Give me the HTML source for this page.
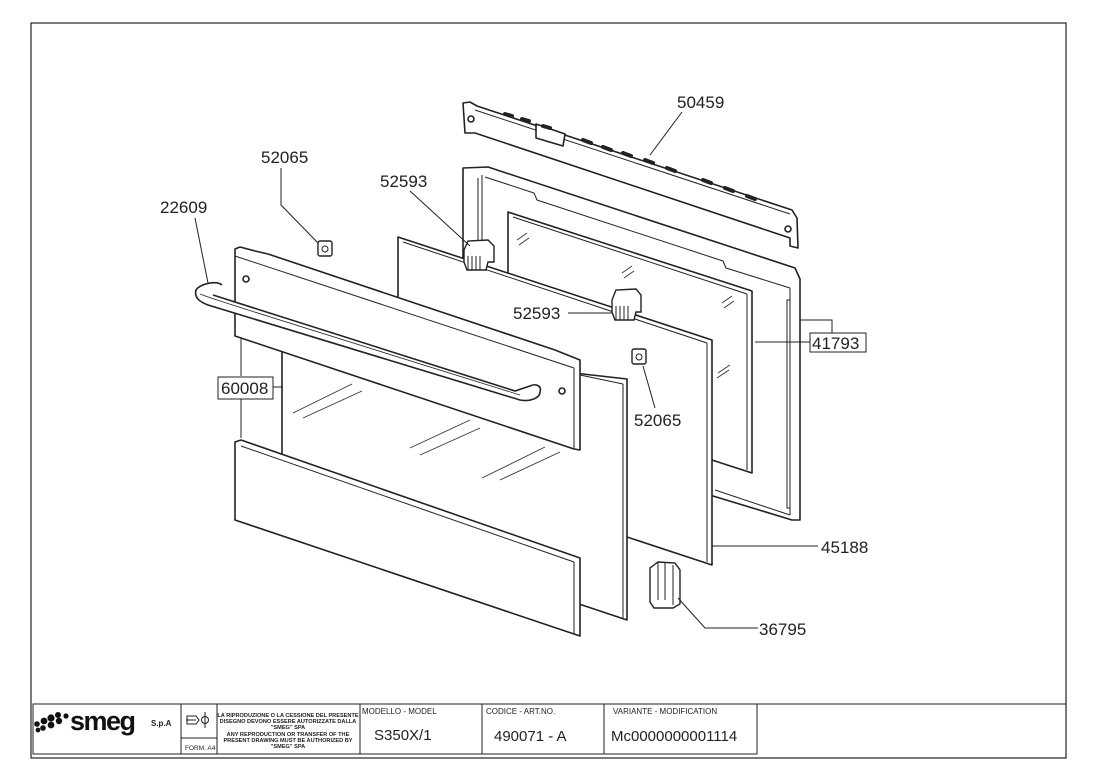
<!DOCTYPE html>
<html><head><meta charset="utf-8"><style>
html,body{margin:0;padding:0;background:#fff}
svg{display:block}
text{font-family:"Liberation Sans",sans-serif;fill:#222}
</style></head><body>
<svg width="1096" height="775" viewBox="0 0 1096 775" xmlns="http://www.w3.org/2000/svg">
<rect x="31" y="23" width="1035" height="735" fill="none" stroke="#222" stroke-width="1.2"/>
<g fill="#fff" stroke="#222" stroke-width="1.6" stroke-linejoin="round">
<!-- top rail 50459 -->
<polygon points="463,103 470,102 477,106 792,210 797,218 798,248 790,246 790,238 475,133 465,133"/>
<line x1="475" y1="110" x2="790" y2="214" stroke-width="1"/>
<polygon points="536,124 565,134 563,146 536,138" />
<g stroke-width="4" stroke-linecap="round">
<line x1="505" y1="114" x2="512" y2="116"/><line x1="522" y1="119" x2="529" y2="121"/><line x1="543" y1="126" x2="550" y2="128"/>
<line x1="583" y1="140" x2="591" y2="143"/><line x1="603" y1="147" x2="611" y2="150"/><line x1="623" y1="153" x2="631" y2="156"/><line x1="645" y1="160" x2="653" y2="163"/><line x1="667" y1="168" x2="675" y2="171"/>
<line x1="703" y1="180" x2="711" y2="183"/><line x1="725" y1="188" x2="733" y2="191"/><line x1="747" y1="196" x2="755" y2="199"/>
</g>
<circle cx="471" cy="119" r="3"/><circle cx="788" cy="229" r="3"/>
<!-- frame 41793 -->
<polygon points="463,168 488,167 795,268 800,279 800,520 792,520 463,420"/>
<line x1="478" y1="178" x2="478" y2="250" stroke-width="1"/>
<line x1="482" y1="175" x2="482" y2="250" stroke-width="1"/>
<polyline points="485,177 534,193 537,200 723,261 726,268 790,288" fill="none" stroke-width="1"/>
<line x1="790" y1="288" x2="790" y2="515" stroke-width="1"/>
<rect x="787" y="300" width="3" height="208" stroke-width="1"/>
<polyline points="715,490 790,515" fill="none" stroke-width="1"/>
<!-- inner glass -->
<polygon points="508,212 752,291 752,473 715,461 508,392"/>
<line x1="513" y1="217" x2="747" y2="294" stroke-width="1"/>
<line x1="747" y1="294" x2="747" y2="470" stroke-width="1"/>
<!-- glass 45188 -->
<polygon points="398,237 712,340 712,565 627,537 398,461"/>
<line x1="403" y1="242" x2="707" y2="343" stroke-width="1"/>
<line x1="707" y1="343" x2="707" y2="562" stroke-width="1"/>
<!-- middle glass -->
<polygon points="282,340 627,379 627,620 282,505"/>
<line x1="580" y1="375" x2="623" y2="384" stroke-width="1"/>
<line x1="623" y1="384" x2="623" y2="618" stroke-width="1"/>
<!-- front top panel -->
<polygon points="235,249 240,247 255,251 268,254 555,350 580,360 580,450 574,449 235,336"/>
<line x1="235" y1="256" x2="574" y2="368" stroke-width="1"/>
<line x1="574" y1="368" x2="574" y2="449" stroke-width="1"/>
<circle cx="246" cy="279" r="3"/><circle cx="562" cy="391" r="3"/>
<!-- front lower panel -->
<polygon points="235,442 241,440 580,558 580,636 574,634 235,520"/>
<line x1="241" y1="446" x2="574" y2="562" stroke-width="1"/>
<line x1="574" y1="562" x2="574" y2="634" stroke-width="1"/>
</g>
<!-- glass hatches -->
<g stroke="#333" stroke-width="0.9">
<line x1="293" y1="413" x2="352" y2="384"/><line x1="303" y1="418" x2="362" y2="391"/>
<line x1="410" y1="448" x2="470" y2="420"/><line x1="420" y1="455" x2="480" y2="428"/>
<line x1="482" y1="478" x2="545" y2="447"/><line x1="500" y1="480" x2="560" y2="452"/>
<line x1="517" y1="240" x2="527" y2="233"/><line x1="519" y1="245" x2="529" y2="238"/>
<line x1="622" y1="273" x2="632" y2="266"/><line x1="624" y1="278" x2="634" y2="271"/>
<line x1="722" y1="303" x2="732" y2="296"/><line x1="724" y1="308" x2="734" y2="301"/>
<line x1="718" y1="373" x2="730" y2="365"/><line x1="717" y1="378" x2="729" y2="370"/>
</g>
<!-- handle -->
<path d="M222,285 C216,280 200,284 196,290 C194,298 200,302 208,305 L520,400 C530,402 540,398 540,392 C542,386 536,383 530,386 L515,391 L213,295" fill="#fff" stroke="#222" stroke-width="1.6"/>
<path d="M200,294 C210,298 215,300 520,395" fill="none" stroke="#222" stroke-width="0.8"/>
<!-- clips 52065 -->
<rect x="318" y="241" width="14" height="15" rx="2" fill="#fff" stroke="#222" stroke-width="1.4"/><circle cx="325" cy="249" r="3" fill="none" stroke="#222"/>
<rect x="632" y="349" width="14" height="15" rx="2" fill="#fff" stroke="#222" stroke-width="1.4"/><circle cx="639" cy="357" r="3" fill="none" stroke="#222"/>
<!-- 52593 blocks -->
<g fill="#fff" stroke="#222" stroke-width="1.4">
<path d="M464,250 L468,241 L488,240 L494,246 L494,262 L488,262 L486,270 L467,270 L464,262 Z"/>
<path d="M468,256 L468,270 M472,256 L472,270 M476,256 L476,270 M480,256 L480,270" stroke-width="1"/>
<path d="M612,300 L616,290 L636,289 L641,295 L641,312 L636,312 L634,320 L615,320 L612,312 Z"/>
<path d="M616,306 L616,320 M620,306 L620,320 M624,306 L624,320 M628,306 L628,320" stroke-width="1"/>
<!-- 36795 -->
<path d="M650,568 L658,562 L675,563 L680,570 L680,604 L673,608 L654,608 L650,602 Z"/>
<path d="M658,563 L658,600 M665,563 L665,600 M673,565 L673,605" stroke-width="1"/>
</g>
<!-- leaders -->
<g stroke="#222" stroke-width="1" fill="none">
<line x1="682" y1="112" x2="650" y2="155"/>
<polyline points="281,168 281,205 318,243"/>
<line x1="410" y1="191" x2="470" y2="246"/>
<line x1="195" y1="218" x2="208" y2="283"/>
<line x1="568" y1="313" x2="612" y2="313"/>
<line x1="755" y1="342" x2="810" y2="342"/>
<polyline points="800,320 832,320 832,333"/>
<line x1="241" y1="338" x2="241" y2="376"/><line x1="241" y1="399" x2="241" y2="438"/>
<line x1="273" y1="387" x2="283" y2="387"/>
<line x1="643" y1="366" x2="655" y2="408"/>
<line x1="712" y1="546" x2="818" y2="546"/>
<polyline points="678,598 705,628 758,628"/>
</g>
<rect x="810" y="333" width="56" height="19" fill="#fff" stroke="#222"/>
<rect x="218" y="377" width="55" height="22" fill="#fff" stroke="#222"/>
<g font-size="17">
<text x="677" y="108">50459</text>
<text x="261" y="163">52065</text>
<text x="380" y="187">52593</text>
<text x="160" y="213">22609</text>
<text x="513" y="319">52593</text>
<text x="812" y="349">41793</text>
<text x="221" y="394">60008</text>
<text x="634" y="426">52065</text>
<text x="821" y="553">45188</text>
<text x="759" y="635">36795</text>
</g>
<!-- title block -->
<g stroke="#222" stroke-width="1" fill="none">
<rect x="33" y="704" width="724" height="50"/>
<line x1="181" y1="704" x2="181" y2="754"/><line x1="217" y1="704" x2="217" y2="754"/>
<line x1="181" y1="738" x2="217" y2="738"/>
<line x1="360" y1="704" x2="360" y2="754"/><line x1="482" y1="704" x2="482" y2="754"/><line x1="604" y1="704" x2="604" y2="754"/>
<line x1="757" y1="704" x2="1066" y2="704"/>
<line x1="186" y1="720" x2="196" y2="720"/><line x1="205" y1="712" x2="205" y2="728"/><circle cx="205" cy="720" r="3.5"/><path d="M187,716 L196,716 L199,720 L196,724 L187,724 Z"/>
</g>
<g fill="#111"><circle cx="37" cy="724" r="2.8"/><circle cx="44" cy="721" r="3.4"/><circle cx="51" cy="718" r="3.6"/><circle cx="58" cy="715" r="3"/><circle cx="43" cy="728" r="2.8"/><circle cx="51" cy="725" r="3.4"/><circle cx="59" cy="721" r="3.2"/><circle cx="66" cy="716" r="2.6"/><circle cx="38" cy="730" r="2.4"/></g>
<text x="70" y="730" font-size="27" font-weight="bold" style="fill:#111;letter-spacing:-1.5px">smeg</text>
<text x="151" y="726" font-size="8" font-weight="bold">S.p.A</text>
<text x="185" y="750" font-size="6.5">FORM. A4</text>
<g font-size="5.6" font-weight="bold" text-anchor="middle">
<text x="288" y="717">LA RIPRODUZIONE O LA CESSIONE DEL PRESENTE</text>
<text x="288" y="723">DISEGNO DEVONO ESSERE AUTORIZZATE DALLA</text>
<text x="288" y="729">"SMEG" SPA</text>
<text x="288" y="736">ANY REPRODUCTION OR TRANSFER OF THE</text>
<text x="288" y="742">PRESENT DRAWING MUST BE AUTHORIZED BY</text>
<text x="288" y="748">"SMEG" SPA</text>
</g>
<g font-size="8"><text x="362" y="714">MODELLO - MODEL</text><text x="486" y="714">CODICE - ART.NO.</text><text x="613" y="714">VARIANTE - MODIFICATION</text></g>
<g font-size="15"><text x="374" y="740">S350X/1</text><text x="494" y="741">490071 - A</text><text x="611" y="741">Mc0000000001114</text></g>
</svg>
</body></html>
